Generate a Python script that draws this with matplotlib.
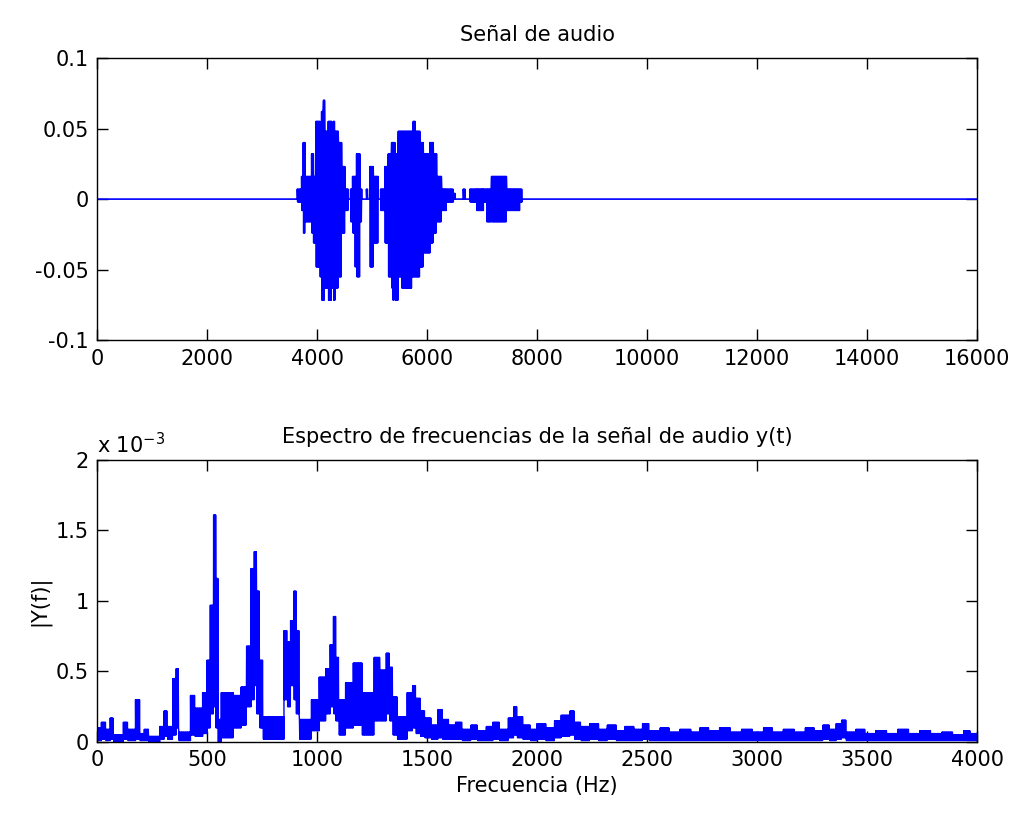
import matplotlib
matplotlib.use("Agg")
import matplotlib.pyplot as plt
import numpy as np

plt.rcParams['font.family'] = ['DejaVu Sans']
plt.rcParams['path.simplify'] = False

# --- audio signal: segments (start sample, upper level, lower level) ---
sig_start = [0, 3642, 3721, 3751, 3782, 3903, 3933, 3982, 4054, 4085, 4120, 4140,
             4206, 4267, 4300, 4327, 4388, 4448, 4509, 4570, 4612, 4648, 4690, 4710,
             4721, 4782, 4812, 4900, 4921, 4964, 5024, 5115, 5158, 5236, 5297, 5358,
             5380, 5400, 5418, 5479, 5539, 5721, 5751, 5782, 5872, 5933, 6054, 6115,
             6175, 6266, 6357, 6478, 6509, 6660, 6690, 6781, 6903, 7024, 7084, 7175,
             7448, 7691, 7733]
sig_hi = [0, 0.007, 0.016, 0.040, 0.016, 0.032, 0.016, 0.055, 0.032, 0.062, 0.070, 0.048,
          0.055, 0.040, 0.055, 0.048, 0.040, 0.023, 0.007, 0, 0.007, 0.016, 0.016, 0.016,
          0.032, 0.007, 0, 0.007, 0, 0.023, 0.016, 0, 0.007, 0.023, 0.032, 0.040,
          0.040, 0.040, 0.032, 0.048, 0.048, 0.048, 0.055, 0.048, 0.040, 0.032, 0.040, 0.032,
          0.016, 0.007, 0.007, 0.004, 0, 0.007, 0, 0.007, 0.007, 0.007, 0.007, 0.016,
          0.007, 0.007, 0]
sig_lo = [0, -0.002, -0.008, -0.024, -0.016, -0.024, -0.031, -0.048, -0.055, -0.0716, -0.0716, -0.063,
          -0.0716, -0.063, -0.0716, -0.063, -0.055, -0.024, -0.008, 0, -0.016, -0.024, -0.048, -0.024,
          -0.055, -0.016, 0, 0, 0, -0.048, -0.031, 0, -0.008, -0.031, -0.055, -0.063,
          -0.0716, -0.063, -0.0716, -0.055, -0.063, -0.055, -0.055, -0.055, -0.048, -0.038, -0.031, -0.024,
          -0.016, -0.008, -0.002, 0, 0, 0, 0, -0.002, -0.008, -0.002, -0.016, -0.016,
          -0.008, -0.002, 0]
sig_end = 16000

# --- spectrum: segments (start Hz, upper, lower) in units of 1e-3 ---
spec_start = [0, 20, 40, 60, 75, 120, 140, 175, 195, 215, 235, 285, 305, 320, 345, 360,
              372, 425, 445, 480, 500, 515, 530, 540, 550, 565, 620, 655, 680, 700, 715,
              725, 740, 755, 850, 865, 880, 895, 905, 920, 975, 1010, 1040, 1060, 1075,
              1085, 1100, 1130, 1165, 1205, 1260, 1285, 1315, 1330, 1345, 1365, 1410,
              1435, 1450, 1470, 1490, 1520, 1550, 1570, 1600, 1630, 1660, 1700, 1730,
              1770, 1800, 1830, 1870, 1895, 1910, 1935, 1970, 2000, 2040, 2080, 2110,
              2150, 2170, 2200, 2240, 2280, 2320, 2360, 2400, 2440, 2480, 2510, 2560,
              2600, 2650, 2700, 2740, 2780, 2830, 2880, 2930, 2980, 3030, 3070, 3120,
              3170, 3220, 3260, 3300, 3330, 3360, 3385, 3405, 3450, 3490, 3540, 3590,
              3640, 3690, 3740, 3790, 3840, 3890, 3940, 3970]
spec_hi = [0.10, 0.14, 0.09, 0.17, 0.05, 0.14, 0.09, 0.30, 0.06, 0.09, 0.04, 0.11, 0.22, 0.11, 0.45, 0.52,
           0.07, 0.33, 0.24, 0.35, 0.58, 0.97, 1.61, 1.16, 0.16, 0.35, 0.33, 0.39, 0.68, 1.23, 1.35,
           1.07, 0.58, 0.18, 0.79, 0.71, 0.86, 1.07, 0.79, 0.16, 0.30, 0.46, 0.52, 0.69, 0.89,
           0.60, 0.30, 0.42, 0.56, 0.35, 0.60, 0.51, 0.63, 0.53, 0.32, 0.18, 0.35,
           0.40, 0.31, 0.22, 0.17, 0.12, 0.23, 0.16, 0.12, 0.14, 0.09, 0.12, 0.08,
           0.11, 0.14, 0.09, 0.17, 0.25, 0.18, 0.12, 0.09, 0.13, 0.10, 0.15, 0.19,
           0.22, 0.14, 0.11, 0.13, 0.09, 0.12, 0.08, 0.11, 0.09, 0.13, 0.08, 0.10,
           0.07, 0.09, 0.07, 0.10, 0.08, 0.10, 0.07, 0.09, 0.07, 0.10, 0.07, 0.09,
           0.07, 0.10, 0.08, 0.12, 0.09, 0.13, 0.155, 0.07, 0.09, 0.06, 0.08, 0.06,
           0.09, 0.06, 0.08, 0.06, 0.07, 0.05, 0.08, 0.06]
spec_lo = [0.01, 0.02, 0.01, 0.02, 0.0, 0.02, 0.01, 0.02, 0.01, 0.01, 0.0, 0.02, 0.04, 0.02, 0.05, 0.10,
           0.01, 0.05, 0.04, 0.06, 0.10, 0.20, 0.25, 0.10, 0.0, 0.03, 0.10, 0.12, 0.25, 0.30, 0.40,
           0.20, 0.10, 0.02, 0.30, 0.25, 0.40, 0.30, 0.20, 0.02, 0.08, 0.15, 0.20, 0.25, 0.20,
           0.15, 0.05, 0.10, 0.12, 0.05, 0.15, 0.15, 0.20, 0.15, 0.05, 0.02, 0.08,
           0.10, 0.06, 0.04, 0.03, 0.02, 0.03, 0.02, 0.02, 0.02, 0.01, 0.02, 0.01,
           0.01, 0.02, 0.01, 0.03, 0.05, 0.03, 0.02, 0.01, 0.02, 0.01, 0.03, 0.04,
           0.05, 0.02, 0.01, 0.02, 0.01, 0.02, 0.01, 0.01, 0.01, 0.02, 0.01, 0.01,
           0.01, 0.01, 0.01, 0.01, 0.01, 0.01, 0.01, 0.01, 0.01, 0.01, 0.01, 0.01,
           0.01, 0.01, 0.01, 0.02, 0.01, 0.02, 0.03, 0.01, 0.01, 0.01, 0.01, 0.01,
           0.01, 0.01, 0.01, 0.01, 0.01, 0.01, 0.01, 0.01]
spec_end = 4000

top_xticks = [0, 2000, 4000, 6000, 8000, 10000, 12000, 14000, 16000]
top_yticks = [-0.1, -0.05, 0, 0.05, 0.1]
top_yticklabels = ['-0.1', '-0.05', '0', '0.05', '0.1']
bot_xticks = [0, 500, 1000, 1500, 2000, 2500, 3000, 3500, 4000]
bot_yticks = [0, 0.5, 1, 1.5, 2]
bot_yticklabels = ['0', '0.5', '1', '1.5', '2']


def zigzag(starts, hi, lo, end, step):
    # trace alternating between the upper and lower level of each segment
    xs, ys = [], []
    bounds = list(starts) + [end]
    for i in range(len(starts)):
        a, b = bounds[i], bounds[i + 1]
        if hi[i] == 0 and lo[i] == 0:
            xs += [a, b]
            ys += [0, 0]
            continue
        pts = np.arange(a, b, step)
        for k, p in enumerate(pts):
            xs.append(p)
            ys.append(hi[i] if k % 2 == 0 else lo[i])
    return xs, ys


def style_axes(ax):
    ax.tick_params(direction='in', top=True, right=True, length=8, width=1,
                   labelsize=15, pad=6)
    for s in ax.spines.values():
        s.set_linewidth(1.0)


fig = plt.figure(figsize=(10.15, 8.16), dpi=100)
ax1 = fig.add_axes([0.0956, 0.583, 0.867, 0.346])
ax2 = fig.add_axes([0.0956, 0.0907, 0.867, 0.3456])

x1, y1 = zigzag(sig_start, sig_hi, sig_lo, sig_end, 7)
ax1.plot(x1, y1, color=(0, 0, 1), linewidth=1.2)
ax1.set_xlim(0, 16000)
ax1.set_ylim(-0.1, 0.1)
ax1.set_xticks(top_xticks)
ax1.set_yticks(top_yticks)
ax1.set_yticklabels(top_yticklabels)
ax1.set_title('Señal de audio', fontsize=15, pad=12)
style_axes(ax1)

x2, y2 = zigzag(spec_start, spec_hi, spec_lo, spec_end, 1.5)
ax2.plot(x2, y2, color=(0, 0, 1), linewidth=1.0)
ax2.set_xlim(0, 4000)
ax2.set_ylim(0, 2)
ax2.set_xticks(bot_xticks)
ax2.set_yticks(bot_yticks)
ax2.set_yticklabels(bot_yticklabels)
ax2.set_title('Espectro de frecuencias de la señal de audio y(t)', fontsize=15, pad=12)
ax2.set_xlabel('Frecuencia (Hz)', fontsize=15)
ax2.set_ylabel('|Y(f)|', fontsize=15)
ax2.text(0.0, 1.01, r'x 10$^{-3}$', transform=ax2.transAxes, fontsize=15,
         ha='left', va='bottom')
style_axes(ax2)

fig.savefig('out.png', dpi=100)
